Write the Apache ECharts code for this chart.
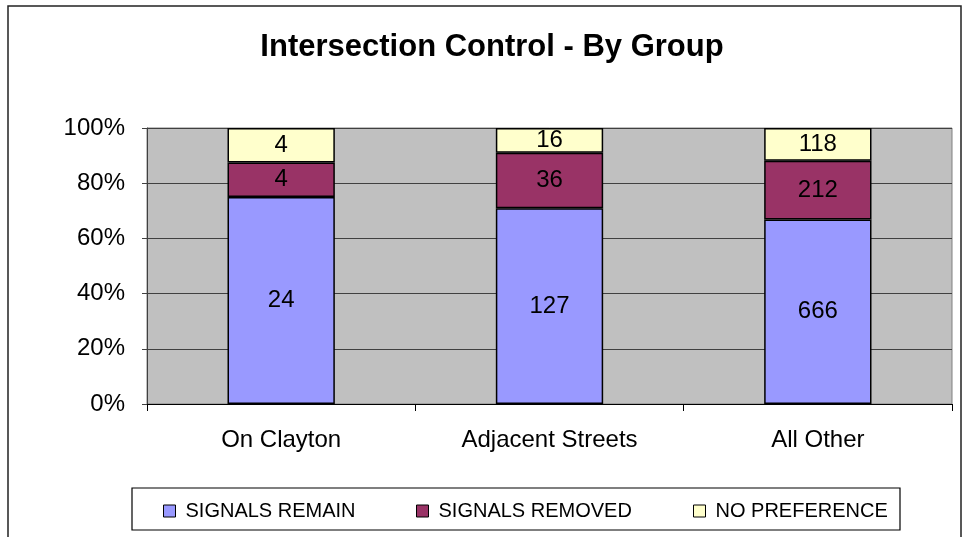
<!DOCTYPE html>
<html>
<head>
<meta charset="utf-8">
<script src="https://cdn.jsdelivr.net/npm/echarts@6/dist/echarts.min.js"></script>
<style>html,body{margin:0;padding:0;background:#fff}#c{width:964px;height:537px}</style>
</head>
<body>
<div id="c"></div>
<script>
var categories = ['On Clayton', 'Adjacent Streets', 'All Other'];
var seriesNames = ['SIGNALS REMAIN', 'SIGNALS REMOVED', 'NO PREFERENCE'];
var signalsRemain = [24, 127, 666];
var signalsRemoved = [4, 36, 212];
var noPreference = [4, 16, 118];
var yTicks = [0, 20, 40, 60, 80, 100];

var raw = [signalsRemain, signalsRemoved, noPreference];
var totals = categories.map(function (_, i) { return signalsRemain[i] + signalsRemoved[i] + noPreference[i]; });
var colors = ['#9999FF', '#993366', '#FFFFCC'];
var FONT = 'Liberation Sans, Arial, sans-serif';

var chart = echarts.init(document.getElementById('c'), null, {renderer: 'canvas'});

var series = raw.map(function (arr, k) {
  return {
    name: seriesNames[k],
    type: 'bar',
    stack: 'total',
    barWidth: '40%',
    data: arr.map(function (v, i) { return {value: v / totals[i] * 100, raw: v}; }),
    itemStyle: {color: colors[k], borderColor: '#000', borderWidth: 1.5},
    label: {
      show: true, position: 'inside', color: '#000',
      fontFamily: FONT, fontSize: 24,
      formatter: function (p) { return p.data.raw; }
    },
    emphasis: {disabled: true}
  };
});

var legendX = [163, 416, 693];
var legends = seriesNames.map(function (n, k) {
  return {
    data: [n], left: legendX[k], top: 501, padding: 0,
    icon: 'rect', itemWidth: 12, itemHeight: 12,
    itemStyle: {borderColor: '#000', borderWidth: 1},
    textStyle: {fontFamily: FONT, fontSize: 20, color: '#000', padding: [0, 0, 0, 5]},
    selectedMode: false
  };
});

chart.setOption({
  animation: false,
  backgroundColor: '#fff',
  graphic: [
    {type: 'rect', shape: {x: 8, y: 6, width: 953, height: 640}, style: {fill: 'none', stroke: '#222', lineWidth: 1.5}, silent: true},
    {type: 'rect', shape: {x: 132, y: 488, width: 768, height: 42}, style: {fill: '#fff', stroke: '#000', lineWidth: 1.2}, silent: true, z: -1},
    {type: 'text', x: 492, y: 47, style: {text: 'Intersection Control - By Group', font: 'bold 31px ' + FONT, fill: '#000', textAlign: 'center', textVerticalAlign: 'middle'}, silent: true}
  ],
  legend: legends,
  grid: {left: 147, right: 12, top: 128, bottom: 133, show: true, backgroundColor: '#C0C0C0', borderColor: '#808080', borderWidth: 1},
  xAxis: {
    type: 'category', data: categories, boundaryGap: true,
    axisLine: {lineStyle: {color: '#000', width: 1.2}},
    axisTick: {show: true, length: 7, alignWithLabel: false, lineStyle: {color: '#000'}},
    axisLabel: {fontFamily: FONT, fontSize: 24, color: '#000', margin: 24}
  },
  yAxis: {
    type: 'value', min: 0, max: 100, interval: 20,
    axisLine: {show: true, lineStyle: {color: '#404040', width: 1}},
    axisTick: {show: true, length: 5, lineStyle: {color: '#404040'}},
    axisLabel: {fontFamily: FONT, fontSize: 24, color: '#000', margin: 22,
      formatter: function (v) { return yTicks.indexOf(v) >= 0 ? v + '%' : ''; }},
    splitLine: {show: true, lineStyle: {color: '#404040', width: 1}}
  },
  series: series
});
</script>
</body>
</html>
